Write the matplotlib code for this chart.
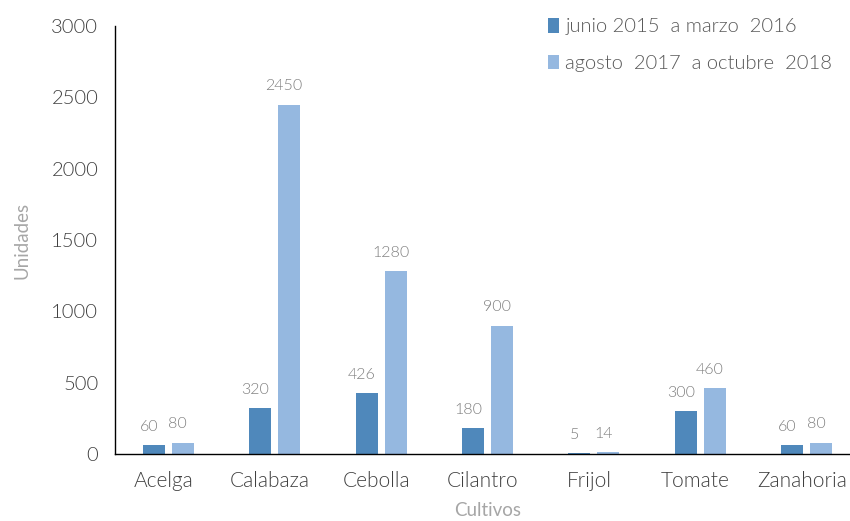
import numpy as np
import matplotlib.pyplot as plt
import matplotlib.transforms as mtransforms

cultivos = ['Acelga', 'Calabaza', 'Cebolla', 'Cilantro', 'Frijol', 'Tomate', 'Zanahoria']
serie_2015 = [60, 320, 426, 180, 5, 300, 60]
serie_2017 = [80, 2450, 1280, 900, 14, 460, 80]
nombres = ['junio 2015  a marzo  2016', 'agosto  2017  a octubre  2018']

plt.rcParams['font.family'] = ['Lato', 'DejaVu Sans']
plt.rcParams['font.weight'] = 300

fig = plt.figure(figsize=(8.5, 5.21), dpi=100)
ax = fig.add_axes([115 / 850, 0.1286, 745 / 850, 0.8214])

x = np.arange(len(cultivos))
w = 0.207
off = 0.136
b1 = ax.bar(x - off, serie_2015, w, color='#4f88bb', label=nombres[0])
b2 = ax.bar(x + off, serie_2017, w, color='#95b8e0', label=nombres[1])

shift = mtransforms.ScaledTranslation(-5 / 100, 0, fig.dpi_scale_trans)
for bars in (b1, b2):
    for r in bars:
        ax.text(r.get_x() + r.get_width() / 2, r.get_height() + 80, f'{int(r.get_height())}',
                ha='center', va='bottom', fontsize=11.5, color='#7f7f7f',
                transform=ax.transData + shift)

ax.set_xlim(-0.5, len(cultivos) - 0.5)
ax.set_ylim(0, 3000)
ax.set_yticks(np.arange(0, 3001, 500))
ax.set_xticks(x)
ax.set_xticklabels(cultivos)
ax.tick_params(length=0, labelsize=14.5, colors='#404040')
ax.tick_params(axis='x', pad=12, labelsize=15)
ax.tick_params(axis='y', pad=12)
for lab in ax.get_xticklabels():
    lab.set_transform(lab.get_transform() + shift)
for s in ('top', 'right'):
    ax.spines[s].set_visible(False)
for s in ('left', 'bottom'):
    ax.spines[s].set_color('black')
    ax.spines[s].set_linewidth(1.0)

ax.set_xlabel('Cultivos', fontsize=13.5, color='#a6a6a6', labelpad=8)
ax.set_ylabel('Unidades', fontsize=13.5, color='#a6a6a6', labelpad=15)

leg = fig.legend(loc='upper left', bbox_to_anchor=(534 / 850, 1 - 4 / 521), frameon=False,
                 fontsize=14.5, handlelength=0.55, handleheight=0.75, handletextpad=0.3,
                 labelspacing=0.95, labelcolor='#595959', borderaxespad=0.3)

fig.savefig('out.png', dpi=100)
